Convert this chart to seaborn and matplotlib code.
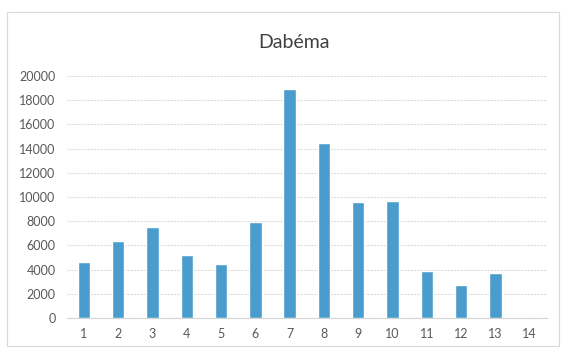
import matplotlib
matplotlib.use("Agg")
import matplotlib.pyplot as plt
import seaborn as sns
import pandas as pd
from matplotlib.patches import Rectangle

categories = ["1", "2", "3", "4", "5", "6", "7", "8", "9", "10", "11", "12", "13", "14"]
values = [4600, 6400, 7500, 5200, 4500, 7900, 18900, 14500, 9600, 9700, 3900, 2700, 3700, 0]
y_ticks = [0, 2000, 4000, 6000, 8000, 10000, 12000, 14000, 16000, 18000, 20000]
title = "Dabéma"

df = pd.DataFrame({"cat": categories, "val": values})

sns.set_theme(style="white")
plt.rcParams["font.family"] = ["Lato", "DejaVu Sans"]

fig = plt.figure(figsize=(5.66, 3.49), dpi=100)
ax = fig.add_axes([0.118, 0.089, 0.848, 0.693])

sns.barplot(data=df, x="cat", y="val", color="#4a9ccc", width=0.36, ax=ax,
            saturation=1, zorder=3)

ax.set_ylim(0, 20000)
ax.set_yticks(y_ticks)
ax.set_yticklabels([str(t) for t in y_ticks])
ax.set_xlim(-0.5, len(categories) - 0.5)
ax.set_xlabel("")
ax.set_ylabel("")
ax.grid(axis="y", color="#dcdcdc", linewidth=0.8, linestyle=(0, (2, 1)), zorder=0)
for s in ["top", "right", "left"]:
    ax.spines[s].set_visible(False)
ax.spines["bottom"].set_color("#d4d4d4")
ax.spines["bottom"].set_linewidth(0.8)
ax.tick_params(axis="both", length=0, labelsize=9, colors="#595959")
ax.tick_params(axis="x", pad=7)
ax.tick_params(axis="y", pad=8)

fig.text(0.52, 0.878, title, ha="center", va="center", fontsize=14, color="#404040")

fig.patches.append(Rectangle((0.012, 0.01), 0.975, 0.955, transform=fig.transFigure,
                             fill=False, edgecolor="#d9d9d9", linewidth=0.8))

fig.savefig("out.png", dpi=100, facecolor="white")
